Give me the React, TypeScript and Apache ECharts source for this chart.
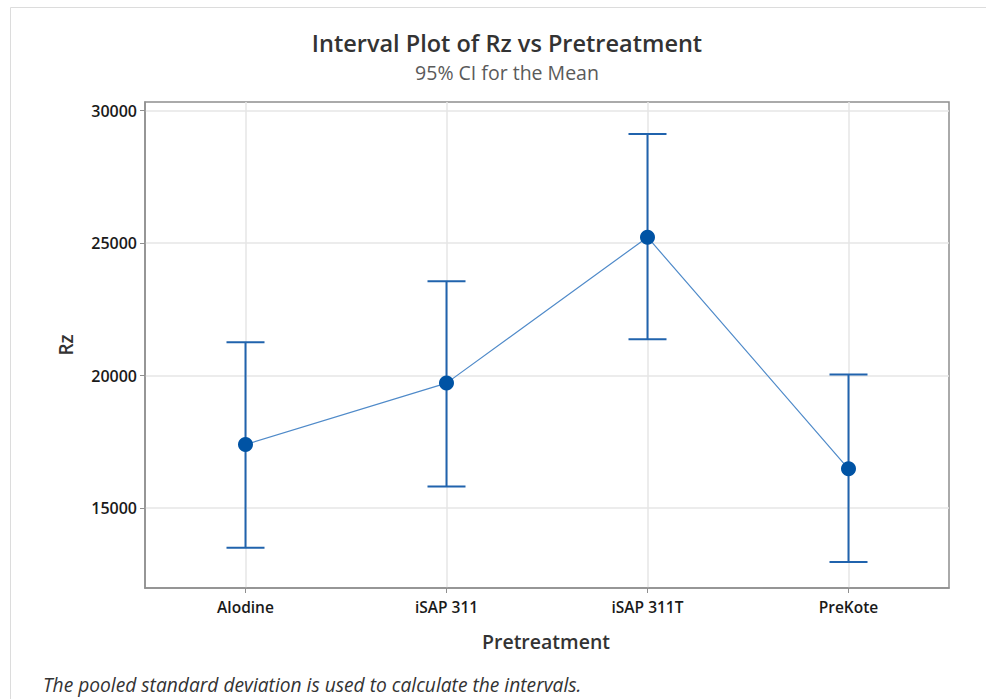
import React, { useEffect, useRef } from "react";
import * as echarts from "echarts";

const categories = ["Alodine", "iSAP 311", "iSAP 311T", "PreKote"];
const means = [17404, 19720, 25227, 16485];
const lowers = [13511, 15816, 21372, 12971];
const uppers = [21258, 23564, 29119, 20049];
const yTicks = [15000, 20000, 25000, 30000];

const FONT = "'Open Sans', 'Noto Sans', sans-serif";

export default function App() {
  const ref = useRef<HTMLDivElement>(null);
  useEffect(() => {
    document.body.style.margin = "0";
    const chart = echarts.init(ref.current!, null, { renderer: "svg" });
    const catIdx = categories.map((_, i) => i);
    chart.setOption({
      animation: false,
      backgroundColor: "#ffffff",
      grid: {
        left: 145, right: 37, top: 102, bottom: 111, containLabel: false,
        show: true, borderColor: "#8f8f8f", borderWidth: 1.5, backgroundColor: "transparent",
      },
      xAxis: {
        type: "value",
        min: -0.5,
        max: 3.5,
        axisLine: { show: true, onZero: false, lineStyle: { color: "#8f8f8f", width: 1.5 } },
        axisTick: { show: true, customValues: catIdx, length: 5, lineStyle: { color: "#8f8f8f" } },
        axisLabel: {
          customValues: catIdx,
          formatter: (v: number) => categories[Math.round(v)] ?? "",
          color: "#1a1a1a",
          fontFamily: FONT,
          fontWeight: 600,
          fontSize: 15.5,
          margin: 11,
        },
        splitLine: { show: true, lineStyle: { color: "#e6e6e6", width: 1.5 } },
      },
      yAxis: {
        type: "value",
        min: 11988,
        max: 30329,
        axisLine: { show: true, onZero: false, lineStyle: { color: "#8f8f8f", width: 1.5 } },
        axisTick: { show: true, customValues: yTicks, length: 5, lineStyle: { color: "#8f8f8f" } },
        axisLabel: {
          customValues: yTicks,
          formatter: (v: number) => String(v),
          color: "#1a1a1a",
          fontFamily: FONT,
          fontWeight: 600,
          fontSize: 16,
          margin: 8,
        },
        splitLine: { show: true, lineStyle: { color: "#e6e6e6", width: 1.5 } },
      },
      series: [
        {
          type: "custom",
          data: categories.map((_, i) => [i, lowers[i], uppers[i]]),
          encode: { x: 0, y: [1, 2] },
          renderItem: (params: any, api: any) => {
            const i = api.value(0);
            const lo = api.coord([i, api.value(1)]);
            const hi = api.coord([i, api.value(2)]);
            const half = 19;
            const style = { stroke: "#2063ad", lineWidth: 2 };
            return {
              type: "group",
              children: [
                { type: "line", shape: { x1: lo[0], y1: lo[1], x2: hi[0], y2: hi[1] }, style },
                { type: "line", shape: { x1: hi[0] - half, y1: hi[1], x2: hi[0] + half, y2: hi[1] }, style },
                { type: "line", shape: { x1: lo[0] - half, y1: lo[1], x2: lo[0] + half, y2: lo[1] }, style },
              ],
            };
          },
          z: 2,
        },
        {
          type: "line",
          data: categories.map((_, i) => [i, means[i]]),
          symbol: "circle",
          symbolSize: 15,
          lineStyle: { color: "#4f8ac9", width: 1.2 },
          itemStyle: { color: "#0053a4" },
          z: 3,
        },
      ],
      graphic: [
        {
          type: "rect",
          shape: { x: 10.5, y: 7.5, width: 1000, height: 1000 },
          style: { fill: "none", stroke: "#dcdcdc", lineWidth: 1 },
          silent: true,
        },
        {
          type: "text",
          x: 507,
          y: 43,
          style: {
            text: "Interval Plot of Rz vs Pretreatment",
            fill: "#333",
            font: `600 23.5px ${FONT}`,
            textAlign: "center",
            textVerticalAlign: "middle",
          },
        },
        {
          type: "text",
          x: 507,
          y: 72,
          style: {
            text: "95% CI for the Mean",
            fill: "#5a5a5a",
            font: `400 19.5px ${FONT}`,
            textAlign: "center",
            textVerticalAlign: "middle",
          },
        },
        {
          type: "text",
          x: 66,
          y: 345,
          rotation: Math.PI / 2,
          style: {
            text: "Rz",
            fill: "#333",
            font: `600 19px ${FONT}`,
            textAlign: "center",
            textVerticalAlign: "middle",
          },
        },
        {
          type: "text",
          x: 546,
          y: 641,
          style: {
            text: "Pretreatment",
            fill: "#333",
            font: `600 19.5px ${FONT}`,
            textAlign: "center",
            textVerticalAlign: "middle",
          },
        },
        {
          type: "text",
          x: 43,
          y: 684,
          style: {
            text: "The pooled standard deviation is used to calculate the intervals.",
            fill: "#333",
            font: `italic 400 19.2px ${FONT}`,
            textAlign: "left",
            textVerticalAlign: "middle",
          },
        },
      ],
    });
    return () => chart.dispose();
  }, []);
  return <div ref={ref} style={{ position: "absolute", left: 0, top: 0, width: 986, height: 699 }} />;
}
